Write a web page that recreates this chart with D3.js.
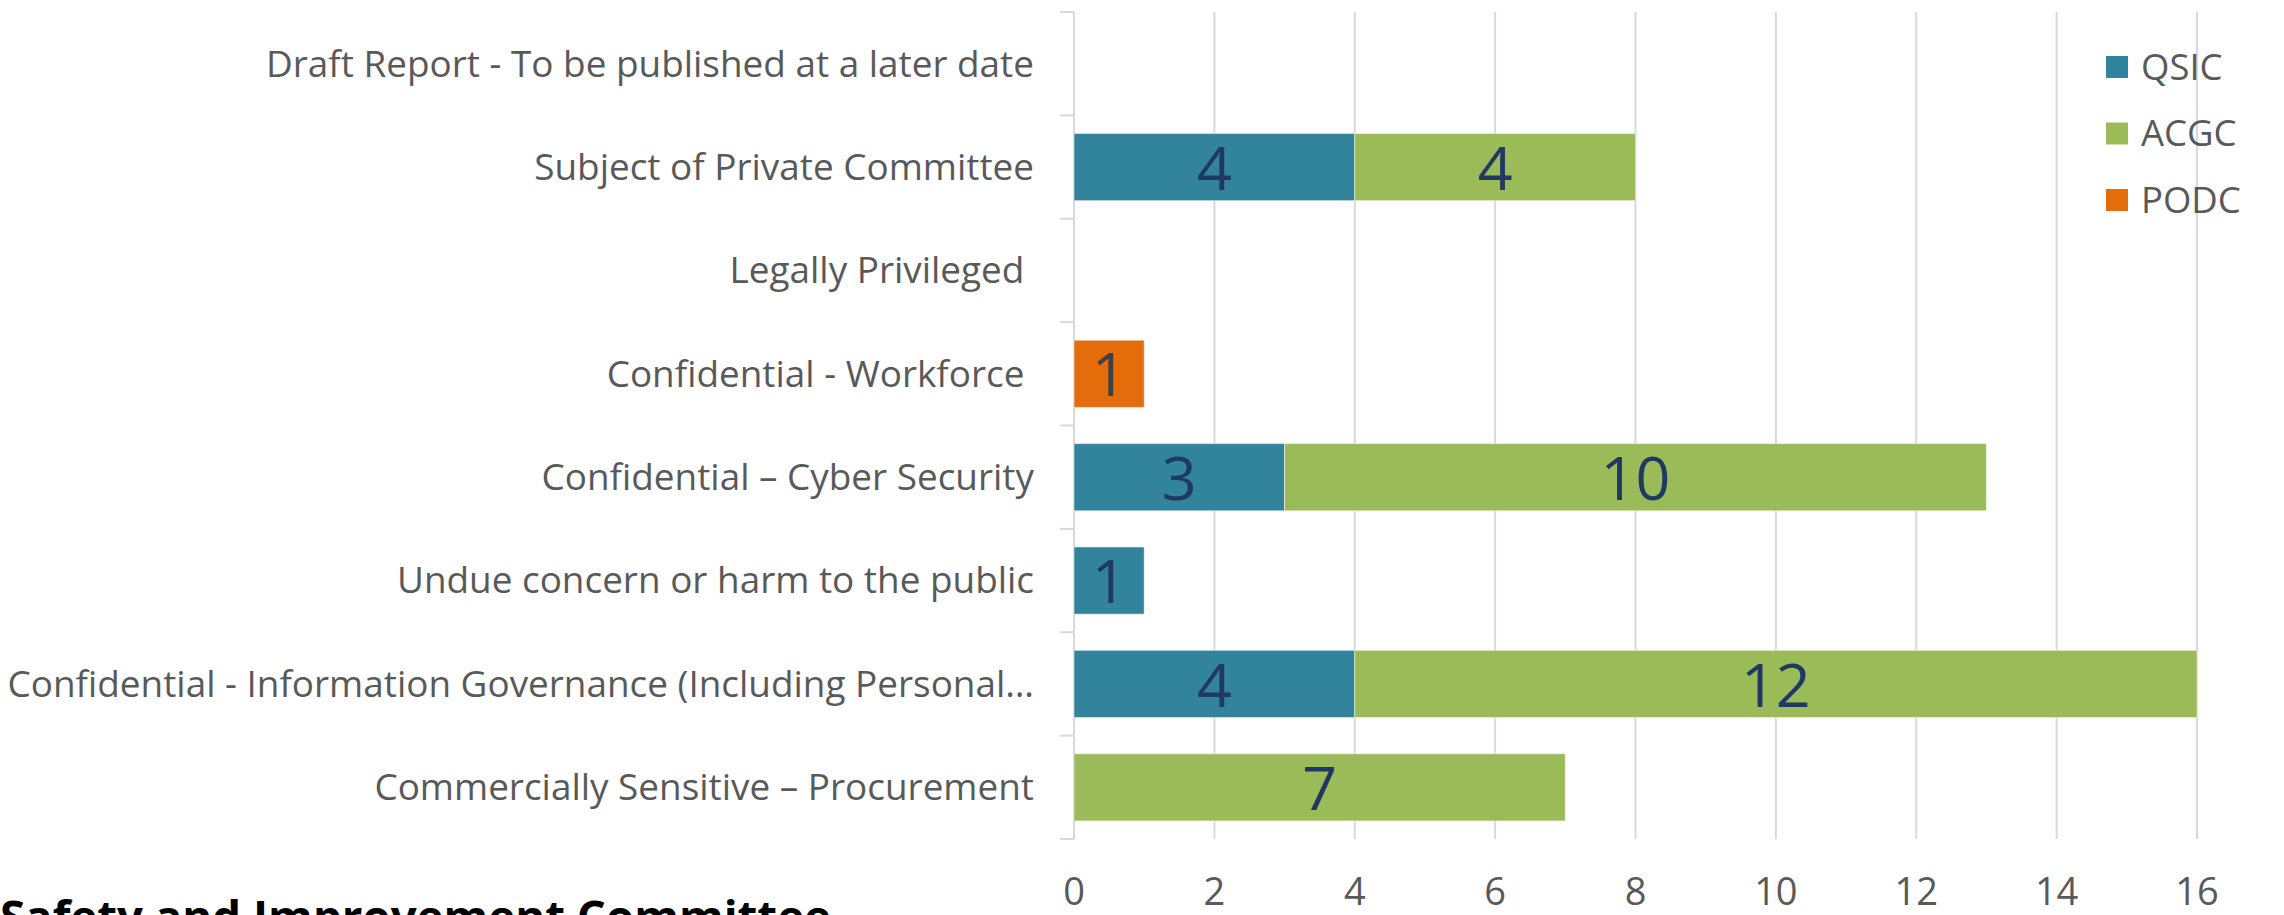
<!DOCTYPE html>
<html>
<head>
<meta charset="utf-8">
<script src="https://cdn.jsdelivr.net/npm/d3@7"></script>
<style>
  html, body { margin: 0; padding: 0; background: #fff; }
  svg { display: block; font-family: "Open Sans", sans-serif; }
</style>
</head>
<body>
<div id="chart"></div>
<script>
// categories, top to bottom
var categories = [
    "Draft Report - To be published at a later date",
    "Subject of Private Committee",
    "Legally Privileged ",
    "Confidential - Workforce ",
    "Confidential \u2013 Cyber Security",
    "Undue concern or harm to the public",
    "Confidential - Information Governance (Including Personal\u2026",
    "Commercially Sensitive \u2013 Procurement"
];
var seriesNames = ["QSIC", "ACGC", "PODC"];
var qsicValues = [0, 4, 0, 0, 3, 1, 4, 0];
var acgcValues = [0, 4, 0, 0, 10, 0, 12, 7];
var podcValues = [0, 0, 0, 1, 0, 0, 0, 0];
var xTicks = [0, 2, 4, 6, 8, 10, 12, 14, 16];
var chartTitle = "Safety and Improvement Committee";

var colors = {QSIC: "#31849B", ACGC: "#9BBB59", PODC: "#E46C0A"};
var labelColors = {QSIC: "#1F3864", ACGC: "#1F3864", PODC: "#404040"};

var width = 2284, height = 915;
var plot = {left: 1074, right: 2197, top: 12, bottom: 839};

var svg = d3.select("#chart").append("svg")
    .attr("width", width)
    .attr("height", height);

// build rows for the stack
var rows = categories.map(function (c, i) {
    return {cat: c, QSIC: qsicValues[i], ACGC: acgcValues[i], PODC: podcValues[i]};
});
var stacked = d3.stack().keys(seriesNames)(rows);

var x = d3.scaleLinear()
    .domain([0, 16])
    .range([plot.left, plot.right]);

var y = d3.scaleBand()
    .domain(categories)
    .range([plot.top, plot.bottom])
    .paddingInner(0.35)
    .paddingOuter(0.175);

// gridlines
svg.append("g")
    .selectAll("line")
    .data(xTicks.slice(1))
    .enter().append("line")
    .attr("x1", function (d) { return x(d); })
    .attr("x2", function (d) { return x(d); })
    .attr("y1", plot.top)
    .attr("y2", plot.bottom)
    .style("stroke", "#d9d9d9")
    .style("stroke-width", 2);

// category axis line and ticks between bands
var step = y.step();
var boundaries = d3.range(categories.length + 1).map(function (i) { return plot.top + i * step; });
svg.append("line")
    .attr("x1", plot.left).attr("x2", plot.left)
    .attr("y1", plot.top).attr("y2", plot.bottom)
    .style("stroke", "#d9d9d9")
    .style("stroke-width", 2);
svg.append("g")
    .selectAll("line")
    .data(boundaries)
    .enter().append("line")
    .attr("x1", plot.left - 14)
    .attr("x2", plot.left)
    .attr("y1", function (d) { return d; })
    .attr("y2", function (d) { return d; })
    .style("stroke", "#d9d9d9")
    .style("stroke-width", 2);

// bars
var layers = svg.append("g")
    .selectAll("g.layer")
    .data(stacked)
    .enter().append("g")
    .attr("class", "layer")
    .attr("fill", function (d) { return colors[d.key]; });

layers.selectAll("rect")
    .data(function (d) { return d.filter(function (s) { return s[1] - s[0] > 0; }); })
    .enter().append("rect")
    .attr("x", function (d) { return x(d[0]); })
    .attr("width", function (d) { return x(d[1]) - x(d[0]); })
    .attr("y", function (d) { return y(d.data.cat); })
    .attr("height", y.bandwidth())
    .style("stroke", "rgba(255,255,255,0.5)")
    .style("stroke-width", 1);

// data labels
layers.each(function (layer) {
    d3.select(this).selectAll("text")
        .data(layer.filter(function (s) { return s[1] - s[0] > 0; }))
        .enter().append("text")
        .attr("x", function (d) { return (x(d[0]) + x(d[1])) / 2; })
        .attr("y", function (d) { return y(d.data.cat) + y.bandwidth() / 2; })
        .attr("dy", "0.37em")
        .attr("text-anchor", "middle")
        .style("font-size", "61px")
        .style("fill", labelColors[layer.key])
        .text(function (d) { return d[1] - d[0]; });
});

// category labels
svg.append("g")
    .selectAll("text")
    .data(categories)
    .enter().append("text")
    .attr("x", 1034)
    .attr("y", function (d) { return y(d) + y.bandwidth() / 2; })
    .attr("dy", "0.35em")
    .attr("text-anchor", "end")
    .style("white-space", "pre")
    .style("font-size", "36.9px")
    .style("fill", "#595959")
    .text(function (d) { return d; });

// value axis labels
svg.append("g")
    .selectAll("text")
    .data(xTicks)
    .enter().append("text")
    .attr("x", function (d) { return x(d); })
    .attr("y", 892)
    .attr("dy", "0.35em")
    .attr("text-anchor", "middle")
    .style("font-size", "38px")
    .style("fill", "#595959")
    .text(function (d) { return d; });

// legend
var legend = svg.append("g")
    .selectAll("g")
    .data(seriesNames)
    .enter().append("g")
    .attr("transform", function (d, i) { return "translate(2106," + (67 + i * 66.5) + ")"; });
legend.append("rect")
    .attr("x", 0).attr("y", -11)
    .attr("width", 22).attr("height", 22)
    .attr("fill", function (d) { return colors[d]; });
legend.append("text")
    .attr("x", 35)
    .attr("dy", "0.35em")
    .style("font-size", "36.5px")
    .style("fill", "#595959")
    .text(function (d) { return d; });

// title, cut off by the bottom edge as in the source
svg.append("text")
    .attr("x", 0)
    .attr("y", 933)
    .style("font-size", "45.6px")
    .style("font-weight", "bold")
    .style("fill", "#000")
    .text(chartTitle);
</script>
</body>
</html>
